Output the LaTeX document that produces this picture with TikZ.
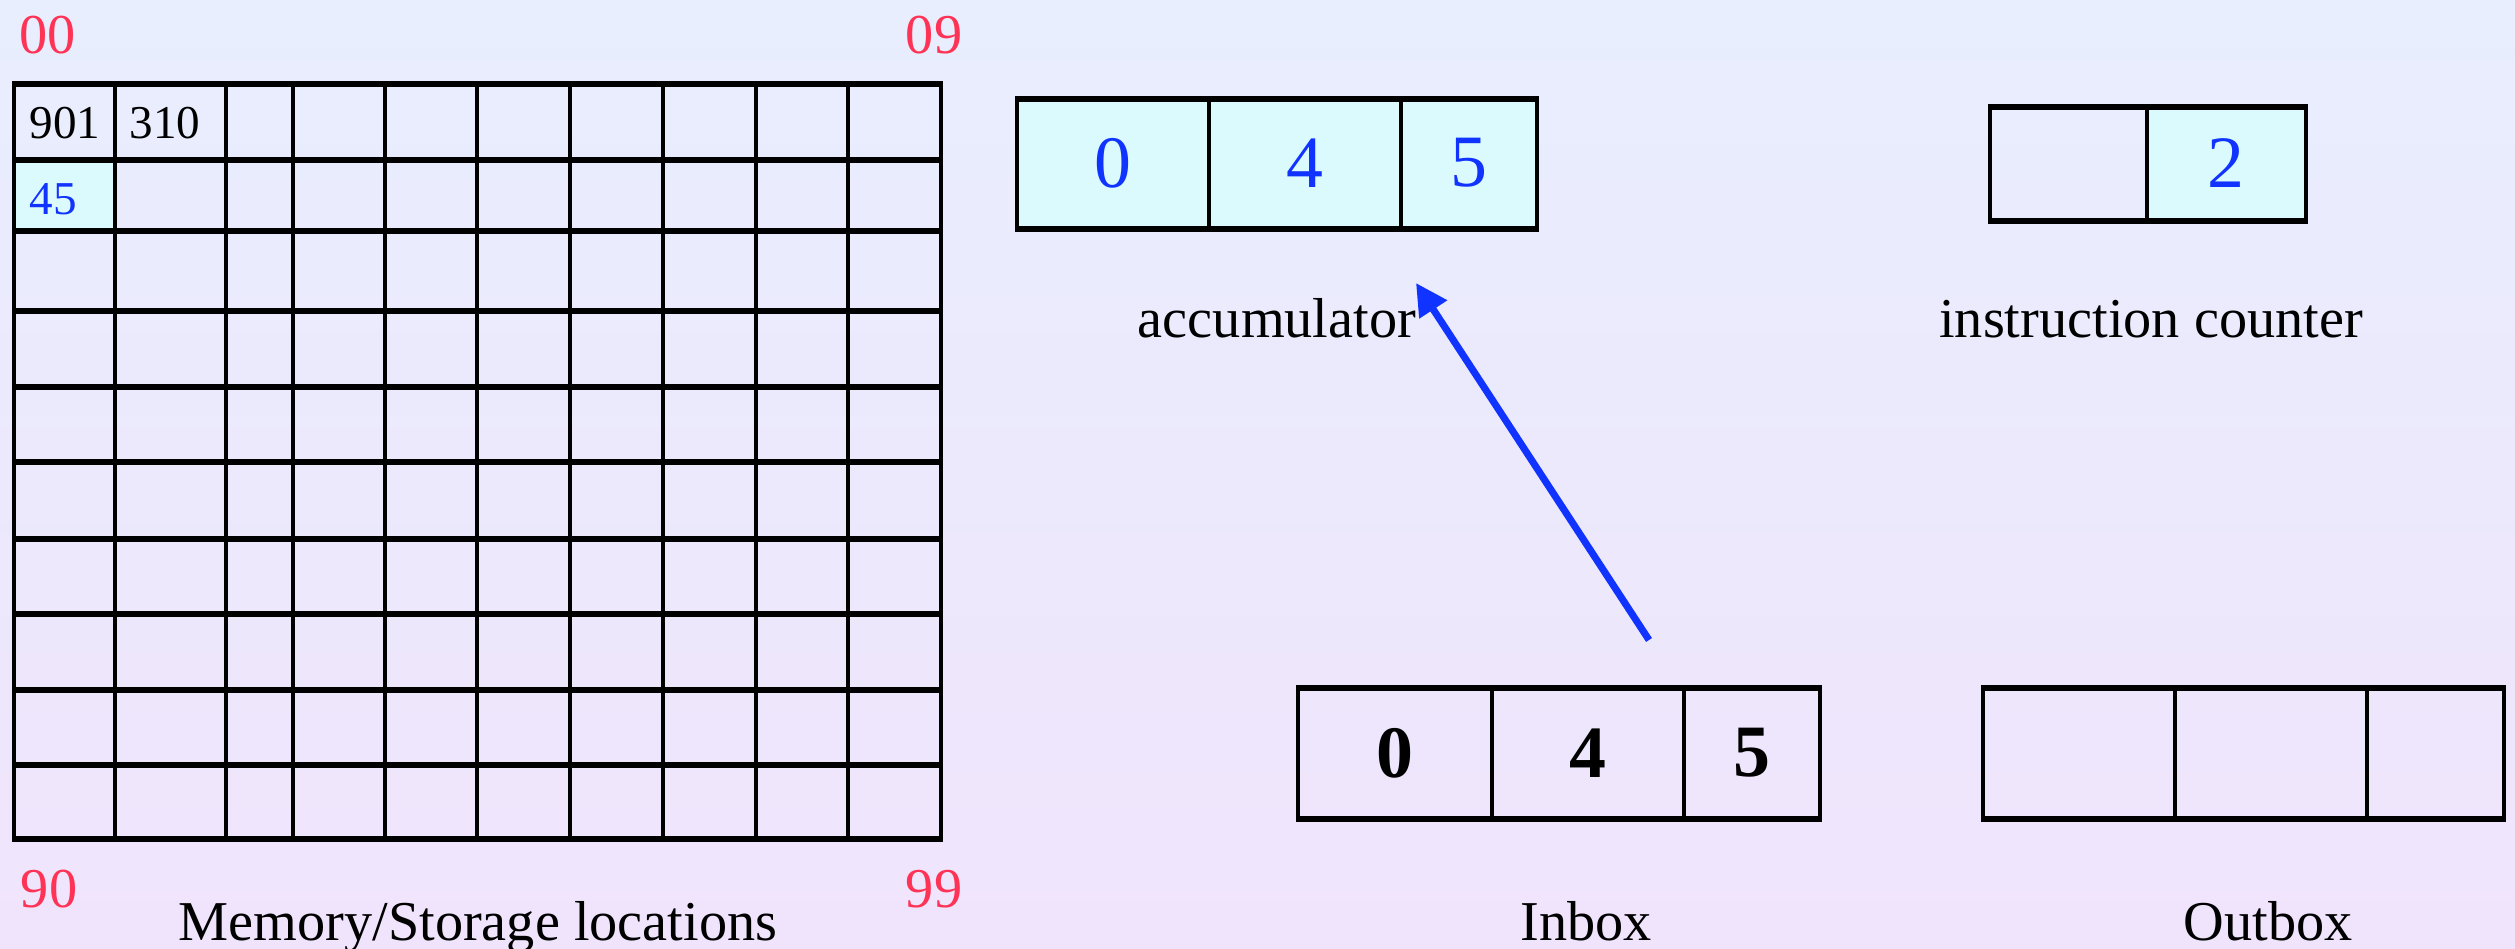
\documentclass[tikz,border=0pt]{standalone}
\usepackage{fontspec}
\setmainfont{Liberation Serif}
\usetikzlibrary{arrows.meta}
\definecolor{bgtop}{HTML}{E8EEFD}
\definecolor{bgbot}{HTML}{F0E4FC}
\definecolor{idxred}{HTML}{FF3355}
\definecolor{valblue}{HTML}{1133FF}
\definecolor{cellcyan}{HTML}{DAFAFD}
\begin{document}
\begin{tikzpicture}[x=0.01cm,y=-0.01cm,
  hline/.style={line width=1.5pt},
  vline/.style={line width=1pt},
  idx/.style={text=idxred, font=\fontsize{16}{18}\selectfont, inner sep=0pt},
  caption/.style={font=\fontsize{16}{18}\selectfont, anchor=base, inner sep=0pt},
  memtxt/.style={font=\fontsize{13.4}{15}\selectfont, anchor=west, inner sep=0pt},
  regdigit/.style={text=valblue, font=\fontsize{21}{24}\selectfont, inner sep=0pt},
  indigit/.style={font=\fontsize{21}{24}\selectfont\bfseries, inner sep=0pt},
  flow/.style={line width=2pt, draw=valblue, -{Triangle[length=9pt,width=9pt]}}
]
% background
\shade[top color=bgtop, bottom color=bgbot] (0,0) rectangle (2515,949);
\useasboundingbox (0,0) rectangle (2515,949);

% ---------------- memory grid ----------------
\fill[cellcyan] (14,160) rectangle (115,231);
\foreach \yy in {84,160,231,311,387,462,539,614,690,765,839}
  \draw[hline] (12,\yy) -- (943,\yy);
\foreach \xx in {14,115,226,293,385,477,570,663,756,848,941}
  \draw[vline] (\xx,84) -- (\xx,839);
\node[memtxt] (m00) at (29,123) {901};
\node[memtxt] (m01) at (129,123) {310};
\node[memtxt, text=valblue] (m10) at (29,199) {45};
\node[idx] (i00) at (48,35) {00};
\node[idx] (i09) at (934,35) {09};
\node[idx] (i90) at (49,889) {90};
\node[idx] (i99) at (934,889) {99};
\node[caption] (memcap) at (478,940) {Memory/Storage locations};

% ---------------- accumulator ----------------
\fill[cellcyan] (1017,99) rectangle (1537,229);
\draw[hline] (1015,99) -- (1539,99) (1015,229) -- (1539,229);
\foreach \xx in {1017,1209,1401,1537}
  \draw[vline] (\xx,99) -- (\xx,229);
\node[regdigit] (acc0) at (1113,163) {0};
\node[regdigit] (acc1) at (1305,163) {4};
\node[regdigit] (acc2) at (1469,163) {5};
\node[caption] (acccap) at (1277,338) {accumulator};

% ---------------- instruction counter ----------------
\fill[cellcyan] (2147,107) rectangle (2306,221);
\draw[hline] (1988,107) -- (2308,107) (1988,221) -- (2308,221);
\foreach \xx in {1990,2147,2306}
  \draw[vline] (\xx,107) -- (\xx,221);
\node[regdigit] (ic1) at (2226,163) {2};
\node[caption] (iccap) at (2151,338) {instruction counter};

% ---------------- inbox ----------------
\draw[hline] (1296,688) -- (1822,688) (1296,819) -- (1822,819);
\foreach \xx in {1298,1492,1684,1820}
  \draw[vline] (\xx,688) -- (\xx,819);
\node[indigit] (in0) at (1395,753) {0};
\node[indigit] (in1) at (1588,753) {4};
\node[indigit] (in2) at (1752,753) {5};
\node[caption] (incap) at (1586,940) {Inbox};

% ---------------- outbox ----------------
\draw[hline] (1981,688) -- (2506,688) (1981,819) -- (2506,819);
\foreach \xx in {1983,2175,2367,2504}
  \draw[vline] (\xx,688) -- (\xx,819);
\node[caption] (outcap) at (2268,940) {Outbox};

% ---------------- arrow ----------------
\coordinate (arrtail) at (1649,640);
\coordinate (arrtip) at (1416,283);
\draw[flow] (arrtail) -- (arrtip);
\end{tikzpicture}
\end{document}
